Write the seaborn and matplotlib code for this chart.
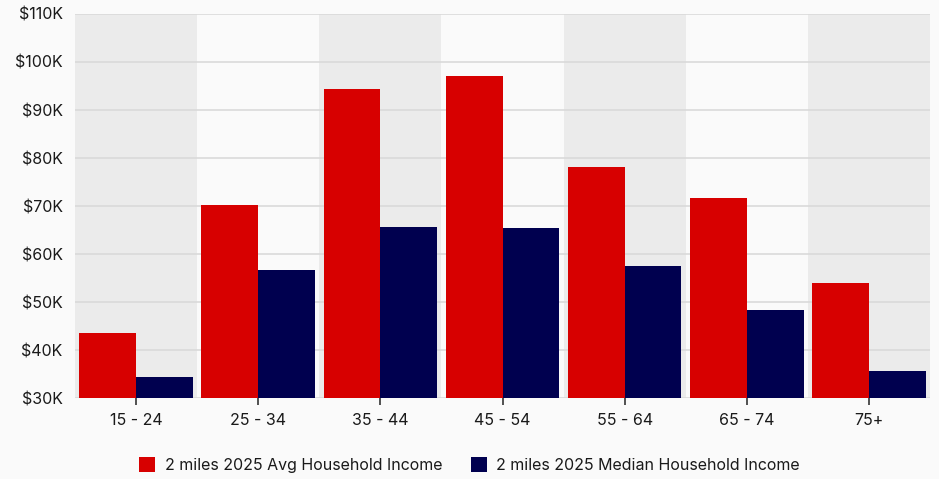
import matplotlib
matplotlib.use("Agg")
import matplotlib.pyplot as plt
import seaborn as sns
import pandas as pd
from matplotlib.ticker import FuncFormatter
from matplotlib.patches import Patch

categories = ["15 - 24", "25 - 34", "35 - 44", "45 - 54", "55 - 64", "65 - 74", "75+"]
avg_income = [43500, 70300, 94300, 97100, 78100, 71700, 53900]
median_income = [34300, 56700, 65600, 65400, 57500, 48300, 35700]
series_names = ["2 miles 2025 Avg Household Income", "2 miles 2025 Median Household Income"]
colors = ["#D70000", "#00004F"]

df = pd.DataFrame({
    "Age": categories * 2,
    "Income": avg_income + median_income,
    "Series": [series_names[0]] * len(categories) + [series_names[1]] * len(categories),
})

sns.set_style("white")
plt.rcParams["font.family"] = ["Inter", "DejaVu Sans"]

fig = plt.figure(figsize=(9.39, 4.79), dpi=100, facecolor="#FAFAFA")
ax = fig.add_axes([0.0799, 0.169, 0.9105, 0.8018])
ax.set_facecolor("#FAFAFA")

for i in range(len(categories)):
    if i % 2 == 0:
        ax.axvspan(i - 0.5, i + 0.5, color="#EBEBEB", zorder=0, lw=0)

sns.barplot(data=df, x="Age", y="Income", hue="Series", palette=colors,
            saturation=1, width=0.93, gap=0, linewidth=0, ax=ax, legend=False, zorder=2)

ax.set_xlim(-0.5, len(categories) - 0.5)
ax.set_ylim(30000, 110000)
ax.set_yticks(range(30000, 110001, 10000))
ax.yaxis.set_major_formatter(FuncFormatter(lambda v, p: f"${int(v/1000)}K"))
ax.set_axisbelow(True)
ax.yaxis.grid(True, color="#DADADA", linewidth=1.2, zorder=1)
ax.xaxis.grid(False)
for s in ax.spines.values():
    s.set_visible(False)
ax.set_xlabel("")
ax.set_ylabel("")
ax.tick_params(axis="y", length=0, pad=9, labelsize=11.5, labelcolor="#1A1A1A")
ax.tick_params(axis="x", length=5, width=1.2, color="#333333", pad=6,
               labelsize=11.5, labelcolor="#1A1A1A", bottom=True)

handles = [Patch(facecolor=c, edgecolor="none") for c in colors]
fig.legend(handles, series_names, loc="center", bbox_to_anchor=(0.5, 0.029),
           ncol=2, frameon=False, fontsize=11.5, handlelength=1.0, handleheight=1.0,
           handletextpad=0.6, columnspacing=1.8, labelcolor="#1A1A1A")

fig.savefig("out.png", dpi=100, facecolor=fig.get_facecolor())
